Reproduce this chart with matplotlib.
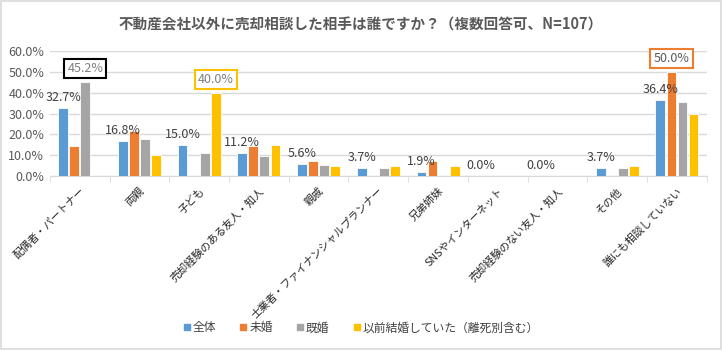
import matplotlib
matplotlib.use("Agg")
import matplotlib.pyplot as plt
import numpy as np
from matplotlib.patches import Rectangle
from matplotlib.lines import Line2D

plt.rcParams['font.family'] = ['Noto Sans CJK JP', 'DejaVu Sans']

categories = ['配偶者・パートナー', '両親', '子ども', '売却経験のある友人・知人', '親戚',
              '士業者・ファイナンシャルプランナー', '兄弟姉妹', 'SNSやインターネット',
              '売却経験のない友人・知人', 'その他', '誰にも相談していない']
series_names = ['全体', '未婚', '既婚', '以前結婚していた（離死別含む）']
zentai = [32.7, 16.8, 15.0, 11.2, 5.6, 3.7, 1.9, 0.0, 0.0, 3.7, 36.4]
mikon = [14.3, 21.4, 0.0, 14.3, 7.1, 0.0, 7.1, 0.0, 0.0, 0.0, 50.0]
kikon = [45.2, 17.8, 11.0, 9.6, 5.5, 4.1, 0.0, 0.0, 0.0, 4.1, 35.6]
izen = [0.0, 10.0, 40.0, 15.0, 5.0, 5.0, 5.0, 0.0, 0.0, 5.0, 30.0]
yticks = [0, 10, 20, 30, 40, 50, 60]
# highlighted labels: (series index, category index, box colour)
highlights = [(2, 0, '#000000'), (3, 2, '#FFC000'), (1, 10, '#ED7D31')]

colors = ['#5B9BD5', '#ED7D31', '#A5A5A5', '#FFC000']
data = [zentai, mikon, kikon, izen]

fig = plt.figure(figsize=(7.22, 3.5), dpi=100)
fig.patches.append(Rectangle((0.001, 0.002), 0.997, 0.995, transform=fig.transFigure,
                             fill=False, edgecolor='#D9D9D9', linewidth=1.2))
ax = fig.add_axes([0.069, 0.497, 0.910, 0.357])

x = np.arange(len(categories))
step = 0.185
width = 0.165
for i, (vals, c) in enumerate(zip(data, colors)):
    ax.bar(x + (i - 1.5) * step, vals, width=width, color=c, edgecolor='white',
           linewidth=0.6, zorder=3)

# data labels for 全体
for xi, v in zip(x, zentai):
    ax.annotate(f'{v:.1f}%', (xi - 1.5 * step, v), xytext=(0, 3), textcoords='offset points',
                ha='center', va='bottom', fontsize=9, color='#404040', zorder=5)

# highlighted labels
for si, ci, bc in highlights:
    v = data[si][ci]
    ax.annotate(f'{v:.1f}%', (ci + (si - 1.5) * step, v), xytext=(0, 5),
                textcoords='offset points', ha='center', va='bottom', fontsize=9,
                color='#7F7F7F' if si != 1 else '#595959', zorder=6,
                bbox=dict(boxstyle='square,pad=0.25', fc='white', ec=bc, lw=1.5))

ax.set_xlim(-0.5, len(categories) - 0.5)
ax.set_ylim(0, 60)
ax.set_yticks(yticks)
ax.set_yticklabels([f'{t:.1f}%' for t in yticks], fontsize=9, color='#595959')
ax.yaxis.grid(True, color='#D9D9D9', linewidth=1, zorder=0)
ax.set_axisbelow(True)
for s in ['left', 'right', 'top']:
    ax.spines[s].set_visible(False)
ax.spines['bottom'].set_color('#D9D9D9')
ax.tick_params(axis='y', length=0, pad=4)
ax.set_xticks(x)
ax.set_xticklabels(categories, rotation=45, ha='right', rotation_mode='anchor',
                   fontsize=7.7, color='#262626')
ax.tick_params(axis='x', length=0, pad=7)
ax.set_xticks(np.arange(-0.5, len(categories), 1), minor=True)
ax.tick_params(axis='x', which='minor', length=4, color='#D9D9D9')

fig.text(0.5, 0.929, '不動産会社以外に売却相談した相手は誰ですか？（複数回答可、N=107）',
         ha='center', va='center', fontsize=10.5, fontweight='bold', color='#595959')

handles = [Line2D([0], [0], marker='s', linestyle='none', markersize=5,
                  markerfacecolor=c, markeredgecolor=c) for c in colors]
fig.legend(handles, series_names, loc='center', bbox_to_anchor=(0.5, 0.063), ncol=4,
           frameon=False, fontsize=8.5, handlelength=0.6, handletextpad=0.2,
           columnspacing=2.0, labelcolor='#404040')

fig.savefig('out.png', dpi=100)
